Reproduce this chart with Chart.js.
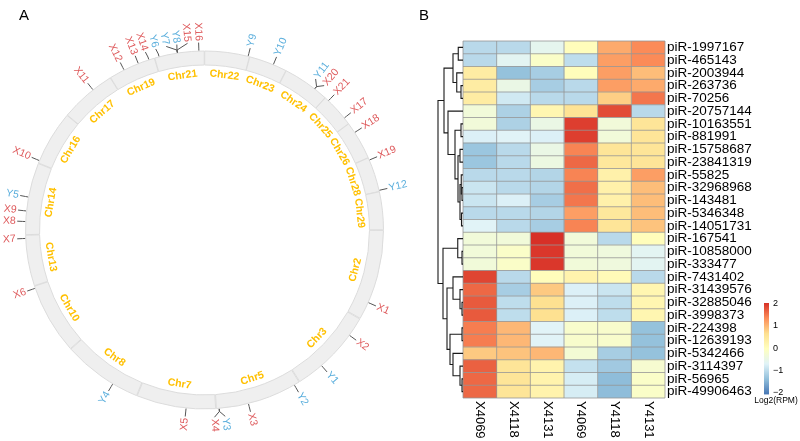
<!DOCTYPE html>
<html><head><meta charset="utf-8">
<script src="https://cdn.jsdelivr.net/npm/chart.js@4/dist/chart.umd.min.js"></script>
<style>
html,body{margin:0;padding:0;background:#fff;}
#wrap{position:relative;width:800px;height:441px;overflow:hidden;background:#fff;}
#left{position:absolute;left:0;top:0;width:409px;height:441px;}
#right{position:absolute;left:400px;top:0;width:400px;height:441px;}
canvas{display:block;}
</style></head><body>
<div id="wrap">
<div id="left"><canvas id="c1" width="409" height="441"></canvas></div>
<div id="right"><canvas id="c2" width="400" height="441"></canvas></div>
</div>
<script>
// ---------------- Panel A data ----------------
const chromosomes = ['Chr22','Chr23','Chr24','Chr25','Chr26','Chr28','Chr29','Chr2','Chr3','Chr5','Chr7','Chr8','Chr10','Chr13','Chr14','Chr16','Chr17','Chr19','Chr21'];
const chrLengths  = [14.6, 12.5, 15.3, 11.2, 12.6, 11.4, 12.4, 29.7, 28.3, 28.3, 25.9, 26.2, 23.4, 16.6, 23.5, 18.0, 18.4, 15.5, 16.2];
const markerNames = ['Y9','Y10','Y11','X20','X21','X17','X18','X19','Y12','X1','X2','Y1','Y2','X3','Y3','X4','X5','Y4','X6','X7','X8','X9','Y5','X10','X11','X12','X13','X14','Y6','Y7','Y8','X15','X16'];
const markerChr   = ['Chr22','Chr23','Chr24','Chr24','Chr25','Chr25','Chr26','Chr28','Chr28','Chr2','Chr3','Chr3','Chr5','Chr5','Chr5','Chr5','Chr7','Chr8','Chr10','Chr13','Chr14','Chr14','Chr14','Chr16','Chr17','Chr19','Chr19','Chr19','Chr21','Chr21','Chr21','Chr21','Chr21'];
const markerPos   = [14.1, 8.0, 10.9, 10.9, 1.4, 8.9, 3.4, 0.8, 11.0, 23.9, 6.3, 19.5, 1.9, 17.8, 27.3, 27.3, 9.6, 8.6, 22.6, 15.5, 4.3, 7.7, 12.2, 0.9, 11.6, 5.0, 10.0, 13.6, 1.5, 7.5, 7.5, 7.5, 14.4];

// ---------------- Panel B data ----------------
const sampleLabels = ['X4069','X4118','X4131','Y4069','Y4118','Y4131'];
const piRNAs = ['piR-1997167','piR-465143','piR-2003944','piR-263736','piR-70256','piR-20757144','piR-10163551','piR-881991','piR-15758687','piR-23841319','piR-55825','piR-32968968','piR-143481','piR-5346348','piR-14051731','piR-167541','piR-10858000','piR-333477','piR-7431402','piR-31439576','piR-32885046','piR-3998373','piR-224398','piR-12639193','piR-5342466','piR-3114397','piR-56965','piR-49906463'];
const X4069 = [-1.0,-1.0,0.4,0.4,0.4,-0.3,-0.3,-0.7,-1.25,-1.25,-1.0,-0.85,-0.85,-1.0,-0.65,-0.3,-0.3,-0.3,1.85,1.6,1.7,1.7,1.45,1.45,0.85,1.65,1.6,1.6];
const X4118 = [-1.0,-0.6,-1.3,-0.45,-0.8,-1.1,-1.1,-0.65,-1.0,-1.0,-1.0,-1.0,-0.7,-1.0,-1.0,-0.3,-0.1,-0.1,-1.0,-1.15,-0.95,-0.95,1.0,1.0,0.9,0.55,0.55,0.55];
const X4131 = [-0.55,-0.1,-1.15,-1.15,-1.0,0.2,-0.45,-0.7,-0.45,-0.4,-1.05,-1.05,-1.15,-1.05,-1.15,2.0,1.95,1.95,0.05,0.85,0.65,0.65,-0.65,-0.65,1.0,0.25,0.25,0.25];
const Y4069 = [0.05,-0.95,0.05,-1.0,-1.0,0.6,1.9,1.9,1.4,1.6,1.4,1.55,1.5,1.2,1.4,-0.3,-0.3,-0.3,0.25,-0.7,-0.7,-0.7,-0.15,-0.15,-0.25,-0.9,-0.75,-0.75];
const Y4118 = [1.1,1.2,1.2,1.2,0.8,1.8,-0.3,-0.3,0.55,0.5,0.3,0.3,0.3,0.5,0.55,-1.0,-0.35,-0.35,0.1,-0.85,-0.95,-0.95,-0.15,-0.15,-1.15,-1.2,-1.35,-1.35];
const Y4131 = [1.35,1.35,0.95,1.1,1.5,-1.0,0.55,0.55,0.55,0.55,1.2,0.95,0.95,0.95,0.9,0.05,-0.6,-0.6,-1.0,0.2,0.2,0.2,-1.3,-1.3,-1.3,-0.2,-0.1,-0.1];
const legendTicks = [2, 1, 0, -1, -2];
// row dendrogram: [left, right, merge height]
const rowTree = [
  [[[0,1,1.9],[2,[3,4,0.8],2.5],4.0],
   [5,[[6,7,0.8],[[8,9,1.2],[[10,[11,12,0.4],0.7],[13,14,0.6],1.2],2.0],3.2],6.0],7.6],
  [[15,[16,17,0.4],2.1],
   [[18,[19,[20,21,0.4],1.2],4.0],[[22,23,0.4],[24,[25,[26,27,0.4],1.2],4.0],5.2],6.4],8.0],
  10];

const FONT = '"Liberation Sans", Arial, Helvetica, sans-serif';
const RED = '#DE5A5C', BLUE = '#5AAEDC';

// ---------------- Panel A ----------------
function spread(angles, gap){
  let clusters = angles.map((a,i)=>({idx:[i]}));
  const center = c => c.idx.reduce((s,i)=>s+angles[i],0)/c.idx.length;
  let changed = true;
  while(changed){
    changed = false;
    for(let k=0;k<clusters.length-1;k++){
      const A=clusters[k], B=clusters[k+1];
      const aEnd = center(A) + (A.idx.length-1)*gap/2;
      const bStart = center(B) - (B.idx.length-1)*gap/2;
      if(bStart - aEnd < gap - 1e-9){
        clusters.splice(k,2,{idx:A.idx.concat(B.idx)});
        changed = true; break;
      }
    }
  }
  const out = [];
  clusters.forEach(c=>{ const m=center(c); c.idx.forEach((i,j)=>{ out[i]=m+(j-(c.idx.length-1)/2)*gap; }); });
  return out;
}

const SPACING = 3;
const ringPlugin = {
  id:'ringDecor',
  afterDatasetsDraw(chart){
    const ctx = chart.ctx;
    const arcs = chart.getDatasetMeta(0).data;
    const cx = arcs[0].x, cy = arcs[0].y;
    const R = arcs[0].outerRadius + SPACING/2;
    ctx.save();
    // chromosome names
    ctx.fillStyle = '#FFC000';
    ctx.font = 'bold 10.5px ' + FONT;
    ctx.textAlign = 'center'; ctx.textBaseline = 'middle';
    arcs.forEach((a,i)=>{
      const mid = (a.startAngle + a.endAngle)/2;
      const r = R - 23;
      let th = mid + Math.PI/2;
      let deg = (th*180/Math.PI + 360) % 360;
      let rot = th;
      if(deg > 90 && deg < 270) rot = th - Math.PI;
      ctx.save();
      ctx.translate(cx + r*Math.cos(mid), cy + r*Math.sin(mid));
      ctx.rotate(rot);
      ctx.fillText(chromosomes[i], 0, 0);
      ctx.restore();
    });
    // markers
    const base = markerNames.map((n,i)=>{
      const k = chromosomes.indexOf(markerChr[i]);
      const a = arcs[k];
      return a.startAngle + (a.endAngle - a.startAngle) * markerPos[i] / chrLengths[k];
    });
    const order = base.map((b,i)=>i).sort((p,q)=> base[p]-base[q] || p-q);
    const degs = order.map(i => (base[i] + Math.PI/2) * 180/Math.PI);
    const spreadDeg = spread(degs, 3.3);
    const lab = [];
    order.forEach((i,j)=>{ lab[i] = spreadDeg[j]*Math.PI/180 - Math.PI/2; });
    ctx.strokeStyle = '#555'; ctx.lineWidth = 1;
    ctx.font = '10.5px ' + FONT; ctx.textBaseline = 'middle';
    markerNames.forEach((n,i)=>{
      const b = base[i], l = lab[i];
      ctx.beginPath();
      ctx.moveTo(cx + (R+0.5)*Math.cos(b), cy + (R+0.5)*Math.sin(b));
      ctx.lineTo(cx + (R+3)*Math.cos(b), cy + (R+3)*Math.sin(b));
      ctx.lineTo(cx + (R+8.5)*Math.cos(l), cy + (R+8.5)*Math.sin(l));
      ctx.stroke();
      const rt = R + 10;
      const deg = ((l + Math.PI/2)*180/Math.PI + 360) % 360;
      ctx.save();
      ctx.translate(cx + rt*Math.cos(l), cy + rt*Math.sin(l));
      ctx.fillStyle = n[0]==='X' ? RED : BLUE;
      if(deg < 180){ ctx.rotate(l); ctx.textAlign='left'; }
      else { ctx.rotate(l + Math.PI); ctx.textAlign='right'; }
      ctx.fillText(n, 0, 0);
      ctx.restore();
    });
    // panel letter
    ctx.fillStyle = '#000'; ctx.font = '15px ' + FONT; ctx.textAlign='left'; ctx.textBaseline='middle';
    ctx.fillText('A', 19, 16);
    ctx.restore();
  }
};

new Chart(document.getElementById('c1'), {
  type:'doughnut',
  data:{ labels: chromosomes, datasets:[{ data: chrLengths, backgroundColor:'#EFEFEF', borderColor:'#DCDCDC', borderWidth:1, spacing:SPACING }]},
  options:{
    responsive:false, animation:false, events:[],
    radius: 177.5, cutout:'92.1%',
    layout:{ padding:{ top:19, bottom:0, left:0, right:0 } },
    plugins:{ legend:{display:false}, tooltip:{enabled:false} }
  },
  plugins:[ringPlugin]
});

// ---------------- Panel B ----------------
const stops = ['#4575B4','#91BFDB','#E0F3F8','#FFFFBF','#FEE090','#FC8D59','#D73027'];
function hex2rgb(h){ return [parseInt(h.slice(1,3),16),parseInt(h.slice(3,5),16),parseInt(h.slice(5,7),16)]; }
const stopRGB = stops.map(hex2rgb);
function colorFor(v){
  const lo=-2, hi=2;
  let t = (Math.max(lo, Math.min(hi, v)) - lo) / (hi - lo) * (stops.length-1);
  const i = Math.min(Math.floor(t), stops.length-2), f = t - i;
  const a = stopRGB[i], b = stopRGB[i+1];
  return 'rgb(' + a.map((x,k)=>Math.round(x + (b[k]-x)*f)).join(',') + ')';
}
const sampleValues = [X4069, X4118, X4131, Y4069, Y4118, Y4131];

const heatPlugin = {
  id:'heatDecor',
  afterDatasetsDraw(chart){
    const ctx = chart.ctx, ca = chart.chartArea;
    const xs = chart.scales.x, ys = chart.scales.y;
    const rowH = (ys.getPixelForValue(1) - ys.getPixelForValue(0));
    ctx.save();
    // grid
    ctx.strokeStyle = '#969696'; ctx.lineWidth = 0.8;
    ctx.beginPath();
    for(let i=0;i<=piRNAs.length;i++){
      const y = ys.getPixelForValue(i) - rowH/2;
      ctx.moveTo(ca.left, y); ctx.lineTo(ca.right, y);
    }
    for(let c=0;c<=sampleLabels.length;c++){
      const x = xs.getPixelForValue(c);
      ctx.moveTo(x, ca.top); ctx.lineTo(x, ca.bottom);
    }
    ctx.stroke();
    // dendrogram (root width 25px)
    const maxH = rowTree[2];
    const hx = h => ca.left - h * (25 / maxH);
    ctx.strokeStyle = '#1a1a1a'; ctx.lineWidth = 1.1;
    function draw(node){
      if(typeof node === 'number') return { y: ys.getPixelForValue(node), x: ca.left };
      const L = draw(node[0]), Rr = draw(node[1]);
      const x = hx(node[2]);
      ctx.beginPath();
      ctx.moveTo(L.x, L.y); ctx.lineTo(x, L.y); ctx.lineTo(x, Rr.y); ctx.lineTo(Rr.x, Rr.y);
      ctx.stroke();
      return { y: (L.y + Rr.y)/2, x };
    }
    draw(rowTree);
    // column labels (rotated, reading downward)
    ctx.fillStyle = '#000'; ctx.font = '13px ' + FONT; ctx.textAlign='left'; ctx.textBaseline='middle';
    sampleLabels.forEach((s,c)=>{
      const x = xs.getPixelForValue(c + 0.5);
      ctx.save(); ctx.translate(x, ca.bottom + 3); ctx.rotate(Math.PI/2); ctx.fillText(s, 0, 0); ctx.restore();
    });
    // color legend
    const lx = 364, lw = 5, vTop = 2.02, vBot = -2.08, yTop = 303, pxPer = 22.3;
    const yOf = v => yTop + (vTop - v) * pxPer;
    const grad = ctx.createLinearGradient(0, yOf(vBot), 0, yOf(vTop));
    stops.forEach((s,i)=> grad.addColorStop(i/(stops.length-1), s));
    ctx.fillStyle = grad;
    ctx.fillRect(lx, yOf(vTop), lw, yOf(vBot) - yOf(vTop));
    ctx.fillStyle = '#000'; ctx.font = '9px ' + FONT; ctx.textAlign='left';
    legendTicks.forEach(v=>{ ctx.fillText(v < 0 ? '\u2212' + Math.abs(v) : String(v), lx + lw + 4, yOf(v)); });
    ctx.font = '8.5px ' + FONT; ctx.textAlign='center';
    ctx.fillText('Log2(RPM)', 376, 401);
    // panel letter
    ctx.font = '15px ' + FONT; ctx.textAlign='left';
    ctx.fillText('B', 19, 16);
    ctx.restore();
  }
};

new Chart(document.getElementById('c2'), {
  type:'bar',
  data:{
    labels: piRNAs,
    datasets: sampleLabels.map((s,c)=>({
      label: s,
      data: piRNAs.map(()=>[c, c+1]),
      backgroundColor: sampleValues[c].map(colorFor),
      borderWidth: 0, barPercentage: 1, categoryPercentage: 1, grouped: false
    }))
  },
  options:{
    indexAxis:'y', responsive:false, animation:false, events:[],
    layout:{ padding:{ top:41, left:63, bottom:43, right:0 } },
    scales:{
      x:{ type:'linear', min:0, max:6, display:false },
      y:{ type:'category', position:'right', offset:true,
          grid:{ display:false, drawTicks:false }, border:{ display:false },
          ticks:{ autoSkip:false, padding:2, color:'#000', font:{ family:FONT, size:13.5 } },
          afterFit(s){ s.width = 135; } }
    },
    plugins:{ legend:{display:false}, tooltip:{enabled:false} }
  },
  plugins:[heatPlugin]
});
</script>
</body></html>
